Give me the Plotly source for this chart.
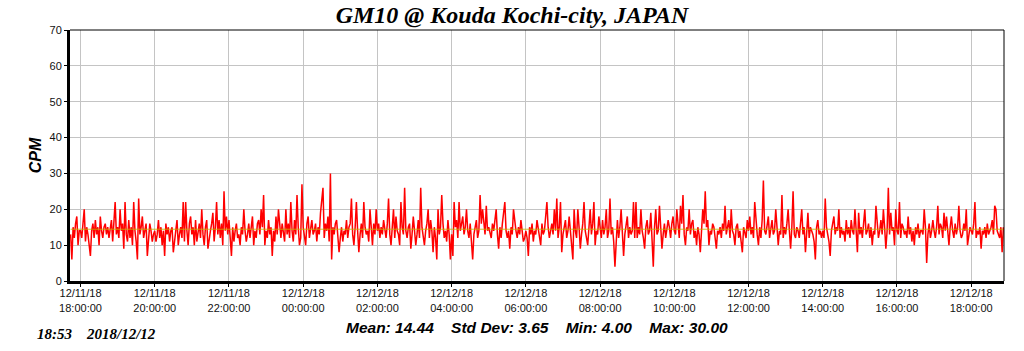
import pandas as pd
import plotly.graph_objects as go

# ---- data: CPM, one reading every 2 minutes, starting 2018-12-11 17:44 ----
start_time = "2018-12-11 17:44"
step = "2min"

cpm_d11_h17 = [13, 6, 15, 12, 16, 18, 10, 14]
cpm_d11_h18 = [14,12,16,20,11,15,13,9,7,14,16,12,17,13,15,10,18,14,12,15,16,13,15,12,14,17,11,16,22,13]
cpm_d11_h19 = [15,12,20,14,16,9,22,13,11,17,12,15,10,22,14,11,6,23,13,15,18,12,14,16,7,12,16,14,11,13]
cpm_d11_h20 = [14,11,13,17,12,15,10,14,7,16,13,15,11,14,15,8,12,14,17,10,13,15,12,22,11,22,14,10,16,18]
cpm_d11_h21 = [13,15,10,17,11,14,16,12,20,13,10,15,17,9,12,14,16,19,11,15,22,13,17,12,16,10,25,14,18,13]
cpm_d11_h22 = [17,12,7,15,11,14,16,12,13,10,15,13,20,14,11,13,16,12,15,18,10,14,12,16,17,13,20,15,24,10]
cpm_d11_h23 = [14,12,17,13,15,7,14,11,18,13,20,15,12,16,14,11,20,13,16,12,22,14,11,17,13,24,15,10,12,27]
cpm_d12_h00 = [15,13,10,16,18,12,15,17,13,14,16,11,15,13,19,23,26,12,16,14,18,11,30,6,15,13,16,17,12,8]
cpm_d12_h01 = [12,15,11,14,13,17,12,15,16,23,13,10,15,22,14,8,13,16,12,22,15,13,14,11,20,15,10,16,13,20]
cpm_d12_h02 = [14,16,12,15,13,17,14,12,16,23,13,10,15,20,12,18,14,13,10,22,15,13,26,14,12,15,16,9,13,18]
cpm_d12_h03 = [14,10,13,17,12,26,15,13,10,14,16,20,12,17,14,8,15,12,6,20,13,15,24,16,12,14,11,17,13,6]
cpm_d12_h04 = [13,7,22,15,17,12,22,14,16,18,13,15,20,14,12,16,11,6,13,15,17,12,14,24,16,20,15,13,21,14]
cpm_d12_h05 = [15,13,12,16,14,17,20,13,9,15,12,16,20,22,14,12,14,9,15,13,20,16,14,12,15,13,17,14,11,12]
cpm_d12_h06 = [14,12,7,15,13,16,11,14,13,17,15,12,10,16,13,14,18,22,15,12,14,16,13,20,14,23,12,15,22,8]
cpm_d12_h07 = [13,15,17,12,14,18,13,11,6,20,14,12,20,15,9,13,16,22,14,12,10,15,20,13,16,22,10,14,13,18]
cpm_d12_h08 = [14,12,17,13,15,20,12,14,23,13,15,11,4,13,17,12,15,20,14,7,13,16,18,12,15,13,14,22,12,22]
cpm_d12_h09 = [12,15,13,20,14,12,9,15,17,13,14,19,12,4,15,20,13,14,21,15,9,13,16,12,14,17,15,12,16,18]
cpm_d12_h10 = [14,13,20,15,12,21,16,24,13,10,15,14,20,13,16,17,12,14,10,15,13,8,14,20,16,25,15,17,10,14]
cpm_d12_h11 = [13,16,15,12,9,14,13,15,12,16,14,21,13,15,17,12,20,14,13,10,15,16,12,14,11,8,15,13,12,17]
cpm_d12_h12 = [14,18,13,15,12,22,16,13,10,15,12,17,28,14,13,16,18,12,15,17,13,14,20,15,10,14,13,24,12,15]
cpm_d12_h13 = [13,16,20,14,9,15,25,13,12,15,14,12,16,20,13,15,8,14,19,12,15,14,13,11,6,15,17,13,14,12]
cpm_d12_h14 = [14,12,23,15,13,11,7,14,16,18,13,15,14,20,12,15,13,14,11,17,13,15,12,17,14,13,20,15,8,19]
cpm_d12_h15 = [13,15,12,16,20,13,14,16,12,15,10,14,13,21,15,12,14,17,13,20,15,9,14,26,13,19,14,15,10,20]
cpm_d12_h16 = [14,13,22,12,16,15,13,14,12,18,13,15,11,14,10,15,13,16,12,14,14,13,20,15,5,13,16,12,14,17]
cpm_d12_h17 = [14,12,15,21,13,16,15,12,19,14,18,13,10,15,18,14,12,16,13,15,21,14,12,13,16,14,20,10,13,15]
cpm_d12_h18 = [14,13,16,22,12,14,13,15,9,14,13,15,12,16,13,14,15,17,13,21,20,14,13,12,15,8,15]

# summary statistics as printed under the chart
stat_mean = 14.44
stat_std = 3.65
stat_min = 4.00
stat_max = 30.00

# axis ticks
x_range = ["2018-12-11 17:43", "2018-12-12 18:53"]
x_tick_times = ["2018-12-11 18:00", "2018-12-11 20:00", "2018-12-11 22:00",
                "2018-12-12 00:00", "2018-12-12 02:00", "2018-12-12 04:00",
                "2018-12-12 06:00", "2018-12-12 08:00", "2018-12-12 10:00",
                "2018-12-12 12:00", "2018-12-12 14:00", "2018-12-12 16:00",
                "2018-12-12 18:00"]
x_tick_dates = ["12/11/18", "12/11/18", "12/11/18", "12/12/18", "12/12/18", "12/12/18",
                "12/12/18", "12/12/18", "12/12/18", "12/12/18", "12/12/18", "12/12/18",
                "12/12/18"]
x_tick_clock = ["18:00:00", "20:00:00", "22:00:00", "00:00:00", "02:00:00", "04:00:00",
                "06:00:00", "08:00:00", "10:00:00", "12:00:00", "14:00:00", "16:00:00",
                "18:00:00"]
y_ticks = [0, 10, 20, 30, 40, 50, 60, 70]

title_text = "GM10 @ Kouda Kochi-city, JAPAN"
y_title = "CPM"
stamp_text = "18:53&nbsp;&nbsp;&nbsp;&nbsp;2018/12/12"

# ---- build ----
cpm = (cpm_d11_h17 + cpm_d11_h18 + cpm_d11_h19 + cpm_d11_h20 + cpm_d11_h21 + cpm_d11_h22 +
       cpm_d11_h23 + cpm_d12_h00 + cpm_d12_h01 + cpm_d12_h02 + cpm_d12_h03 + cpm_d12_h04 +
       cpm_d12_h05 + cpm_d12_h06 + cpm_d12_h07 + cpm_d12_h08 + cpm_d12_h09 + cpm_d12_h10 +
       cpm_d12_h11 + cpm_d12_h12 + cpm_d12_h13 + cpm_d12_h14 + cpm_d12_h15 + cpm_d12_h16 +
       cpm_d12_h17 + cpm_d12_h18)
times = pd.date_range(start=start_time, periods=len(cpm), freq=step)

fig = go.Figure()
fig.add_trace(go.Scatter(x=times, y=cpm, mode="lines",
                         line=dict(color="#ff0000", width=1.5), hoverinfo="skip"))
fig.add_trace(go.Scatter(x=[times[0], times[-1]], y=[stat_mean, stat_mean], mode="lines",
                         line=dict(color="#c8b400", width=1), opacity=0.8, hoverinfo="skip"))

tick_font = dict(family="Liberation Sans, Arial", size=11, color="#111111")

fig.update_layout(
    width=1024, height=351,
    margin=dict(l=70, r=20, t=30, b=70),
    paper_bgcolor="white", plot_bgcolor="white",
    showlegend=False,
    title=dict(text="<b><i>" + title_text + "</i></b>", x=0.5, xanchor="center",
               y=0.957, yanchor="middle",
               font=dict(family="Liberation Serif, Times New Roman", size=24, color="#000")),
    xaxis=dict(type="date", range=x_range,
               tickmode="array", tickvals=x_tick_times,
               ticktext=[d + "<br>" + c for d, c in zip(x_tick_dates, x_tick_clock)],
               tickfont=tick_font, ticks="outside", ticklen=3, tickcolor="#000",
               ticklabelstandoff=-3,
               showgrid=True, gridcolor="#c4c4c4", gridwidth=1,
               showline=True, linecolor="#000", linewidth=3, zeroline=False),
    yaxis=dict(range=[0, 70], tickmode="array", tickvals=y_ticks,
               tickfont=tick_font, ticks="outside", ticklen=3, tickcolor="#000",
               showgrid=True, gridcolor="#c4c4c4", gridwidth=1,
               showline=True, linecolor="#000", linewidth=3, zeroline=False,
               title=dict(text="<b><i>" + y_title + "</i></b>", standoff=4,
                          font=dict(family="Liberation Sans, Arial", size=16, color="#000"))),
)

# thin top/right frame
fig.add_shape(type="line", xref="paper", yref="paper", x0=0, x1=1, y0=1, y1=1,
              line=dict(color="#000", width=1))
fig.add_shape(type="line", xref="paper", yref="paper", x0=1, x1=1, y0=0, y1=1,
              line=dict(color="#000", width=1))

stats_text = ("Mean: %.2f&nbsp;&nbsp;&nbsp;&nbsp;Std Dev: %.2f&nbsp;&nbsp;&nbsp;&nbsp;"
              "Min: %.2f&nbsp;&nbsp;&nbsp;&nbsp;Max: %.2f") % (stat_mean, stat_std, stat_min, stat_max)
fig.add_annotation(text="<b><i>" + stats_text + "</i></b>", xref="paper", yref="paper",
                   x=0.5, y=-0.145, xanchor="center", yanchor="top", showarrow=False,
                   font=dict(family="Liberation Sans, Arial", size=15.5, color="#000"))
fig.add_annotation(text="<b><i>" + stamp_text + "</i></b>", xref="paper", yref="paper",
                   x=-0.038, y=-0.17, xanchor="left", yanchor="top", showarrow=False,
                   font=dict(family="Liberation Serif, Times New Roman", size=15, color="#000"))

fig.write_html("out.html", config={"displayModeBar": False})
